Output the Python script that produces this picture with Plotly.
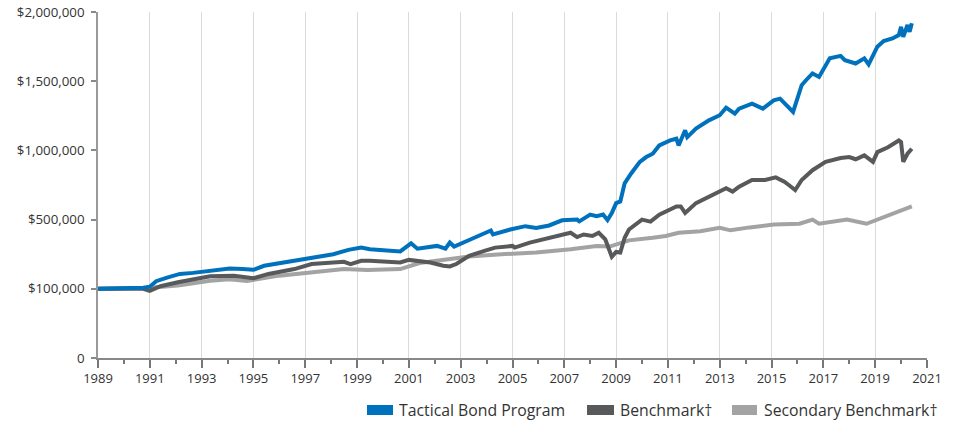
import numpy as np
import plotly.graph_objects as go

# ---------------- data ----------------
tbp_dates = ["1989-01", "1989-07", "1990-01", "1990-07", "1990-10", "1991-01", "1991-04", "1991-09",
             "1992-03", "1992-09", "1993-01", "1993-07", "1994-02", "1994-08", "1995-01", "1995-06",
             "1996-01", "1996-07", "1997-04", "1998-02", "1998-09", "1999-03", "1999-07", "2000-01",
             "2000-09", "2001-02", "2001-05", "2002-02", "2002-06", "2002-08", "2002-10", "2003-05",
             "2004-01", "2004-03", "2004-04", "2004-12", "2005-07", "2005-12", "2006-06", "2006-12",
             "2007-07", "2007-08", "2008-01", "2008-04", "2008-07", "2008-09", "2008-11", "2009-01",
             "2009-03", "2009-05", "2009-08", "2009-12", "2010-03", "2010-06", "2010-09", "2011-02",
             "2011-05", "2011-06", "2011-09", "2011-10", "2012-02", "2012-08", "2013-01", "2013-04",
             "2013-08", "2013-10", "2014-04", "2014-09", "2015-02", "2015-05", "2015-11", "2016-03",
             "2016-05", "2016-08", "2016-11", "2017-04", "2017-09", "2017-11", "2018-04", "2018-08",
             "2018-10", "2019-02", "2019-05", "2019-09", "2019-12", "2020-01", "2020-02", "2020-04",
             "2020-05", "2020-06"]
tbp_values = [100000, 101000, 102000, 104000, 106000, 112000, 144000, 165000,
              186000, 192000, 199000, 208000, 218000, 214000, 210000, 233000,
              248000, 262000, 281000, 300000, 325000, 338000, 329000, 325000,
              316000, 363000, 332000, 348000, 332000, 367000, 344000, 382000,
              424000, 437000, 414000, 443000, 462000, 452000, 466000, 496000,
              500000, 490000, 536000, 524000, 536000, 497000, 548000, 619000,
              631000, 762000, 833000, 917000, 952000, 976000, 1036000, 1072000,
              1084000, 1036000, 1145000, 1096000, 1157000, 1217000, 1254000, 1309000,
              1266000, 1302000, 1338000, 1302000, 1362000, 1374000, 1278000, 1471000,
              1507000, 1556000, 1531000, 1665000, 1683000, 1652000, 1628000, 1665000,
              1621000, 1749000, 1790000, 1809000, 1833000, 1893000, 1821000, 1906000,
              1857000, 1919000]

bm_dates = ["1989-01", "1989-07", "1990-01", "1990-07", "1990-10", "1991-01", "1991-06", "1992-02",
            "1992-09", "1993-05", "1994-04", "1995-01", "1995-08", "1996-08", "1997-04", "1998-07",
            "1998-10", "1999-03", "1999-07", "2000-09", "2001-01", "2001-11", "2002-05", "2002-08",
            "2002-11", "2003-05", "2003-12", "2004-05", "2005-01", "2005-02", "2005-09", "2006-04",
            "2006-11", "2007-04", "2007-07", "2007-10", "2008-02", "2008-05", "2008-08", "2008-09",
            "2008-11", "2009-01", "2009-03", "2009-05", "2009-07", "2010-01", "2010-05", "2010-09",
            "2011-05", "2011-07", "2011-09", "2012-02", "2012-10", "2013-04", "2013-07", "2013-10",
            "2014-04", "2014-10", "2015-03", "2015-07", "2015-09", "2015-12", "2016-03", "2016-08",
            "2017-02", "2017-09", "2018-01", "2018-04", "2018-08", "2018-12", "2019-02", "2019-07",
            "2019-12", "2020-01", "2020-02", "2020-04", "2020-06"]
bm_values = [100000, 101000, 100000, 103000, 100000, 97000, 115000, 138000,
             155000, 173000, 176000, 161000, 186000, 214000, 243000, 256000,
             243000, 262000, 262000, 252000, 267000, 252000, 233000, 229000,
             243000, 290000, 319000, 338000, 348000, 338000, 367000, 386000,
             405000, 424000, 399000, 414000, 405000, 424000, 386000, 348000,
             285000, 313000, 310000, 395000, 443000, 500000, 488000, 536000,
             595000, 595000, 548000, 619000, 679000, 726000, 702000, 738000,
             786000, 786000, 805000, 774000, 750000, 714000, 786000, 857000,
             917000, 945000, 952000, 936000, 964000, 917000, 988000, 1023000,
             1072000, 1060000, 917000, 976000, 1012000]

sec_dates = ["1989-01", "1990-01", "1990-10", "1991-01", "1992-02", "1993-05", "1994-02", "1994-10",
             "1996-01", "1997-04", "1998-07", "1999-06", "2000-09", "2001-06", "2002-09", "2003-05",
             "2004-08", "2005-12", "2007-04", "2008-04", "2008-10", "2009-07", "2010-06", "2010-12",
             "2011-06", "2012-04", "2013-01", "2013-06", "2014-03", "2015-02", "2016-02", "2016-08",
             "2016-11", "2017-12", "2018-09", "2019-04", "2019-11", "2020-06"]
sec_values = [100000, 101000, 103000, 106000, 119000, 147000, 155000, 145000,
              176000, 195000, 214000, 209000, 214000, 249000, 271000, 287000,
              300000, 310000, 329000, 348000, 344000, 380000, 395000, 405000,
              424000, 433000, 452000, 438000, 455000, 471000, 476000, 500000,
              476000, 500000, 476000, 512000, 559000, 595000]

series_names = ["Tactical Bond Program", "Benchmark\u2020", "Secondary Benchmark\u2020"]
series_colors = ["#0071BC", "#58595B", "#A3A3A3"]

y_tick_values = [0, 100000, 500000, 1000000, 1500000, 2000000]
y_tick_labels = ["0", "$100,000", "$500,000", "$1,000,000", "$1,500,000", "$2,000,000"]
x_tick_years = list(range(1989, 2022, 2))

# The value axis is spaced evenly between its labelled ticks (piecewise linear scale)
tick_pos = list(range(len(y_tick_values)))


def yscale(v):
    return np.interp(np.asarray(v, dtype=float), y_tick_values, tick_pos)


fig = go.Figure()
for dates, vals, name, col in [(sec_dates, sec_values, series_names[2], series_colors[2]),
                               (bm_dates, bm_values, series_names[1], series_colors[1]),
                               (tbp_dates, tbp_values, series_names[0], series_colors[0])]:
    fig.add_trace(go.Scatter(x=dates, y=yscale(vals), mode="lines", name=name,
                             customdata=vals,
                             hovertemplate="%{x|%b %Y}: $%{customdata:,.0f}<extra>" + name + "</extra>",
                             line=dict(color=col, width=4), showlegend=False))

font = "Open Sans, Noto Sans, sans-serif"
fig.update_layout(
    width=953, height=423,
    margin=dict(l=98, r=26, t=12, b=65, autoexpand=False),
    paper_bgcolor="white", plot_bgcolor="white",
    font=dict(family=font, size=13, color="#333333"),
    xaxis=dict(
        type="date",
        range=["1989-01-01", "2021-01-01"],
        tickvals=[f"{y}-01-01" for y in x_tick_years],
        ticktext=[str(y) for y in x_tick_years],
        ticks="outside", ticklen=8, tickcolor="#777777", tickwidth=1.5,
        showline=True, linecolor="#888888", linewidth=1.5,
        showgrid=True, gridcolor="#DADADA", gridwidth=1,
        minor=dict(dtick="M12", tick0="1989-01-01", ticks="outside", ticklen=4,
                   tickcolor="#777777", tickwidth=1.5, showgrid=False),
        tickfont=dict(size=13, color="#333333"),
        zeroline=False, fixedrange=True, automargin=False,
    ),
    yaxis=dict(
        range=[0, len(y_tick_values) - 1],
        tickvals=tick_pos, ticktext=y_tick_labels,
        ticks="outside", ticklen=5, tickcolor="#888888", tickwidth=1.5,
        ticklabelstandoff=4,
        showline=True, linecolor="#999999", linewidth=1.5,
        showgrid=False, zeroline=False,
        tickfont=dict(size=13.3, color="#333333"),
        fixedrange=True, automargin=False,
    ),
)

# legend drawn at bottom right
px_l, px_r, px_t, px_b = 98, 927, 12, 358


def px_x(p):
    return (p - px_l) / (px_r - px_l)


def px_y(p):
    return (px_b - p) / (px_b - px_t)


legend_items = [(367, 393, 397, 0), (587, 614, 618, 1), (732, 757, 762, 2)]
for x0, x1, xt, i in legend_items:
    fig.add_shape(type="rect", xref="paper", yref="paper",
                  x0=px_x(x0), x1=px_x(x1), y0=px_y(415), y1=px_y(405),
                  fillcolor=series_colors[i], line=dict(width=0))
    fig.add_annotation(xref="paper", yref="paper", x=px_x(xt), y=px_y(410),
                       xanchor="left", yanchor="middle", showarrow=False,
                       text=series_names[i], font=dict(family=font, size=15.8, color="#333333"))

fig.write_html("out.html", config={"displayModeBar": False},
               post_script="document.body.style.margin='0';document.body.style.overflow='hidden';"
                           "document.documentElement.style.overflow='hidden';")
